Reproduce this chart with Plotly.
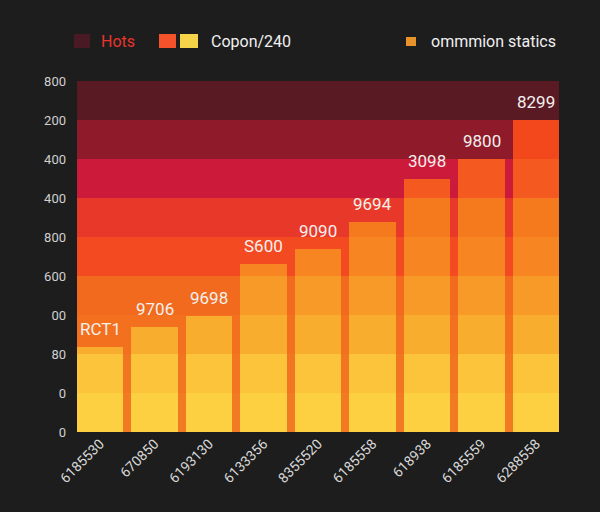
import numpy as np
import plotly.graph_objects as go

categories = ["6185530", "670850", "6193130", "6133356", "8355520",
              "6185558", "618938", "6185559", "6288558"]
values = [2.18, 2.69, 2.98, 4.31, 4.68, 5.38, 6.49, 7.0, 8.0]
bar_labels = ["RCT1", "9706", "9698", "S600", "9090", "9694", "3098", "9800", "8299"]
y_tick_labels = ["0", "0", "80", "00", "600", "800", "400", "400", "200", "800"]
band_colors = ["#f27a22", "#f27622", "#f3701f", "#f26a1e", "#f44a22",
               "#e8382a", "#cc1a3a", "#8e1a2a", "#5a1a24"]
bar_colors = ["#fcd040", "#fbc43a", "#f9ad2e", "#f89a28", "#f68522",
              "#f57a1e", "#f4591f", "#f2481c", "#f2481c"]
legend_labels = ["Hots", "Copon/240", "ommmion statics"]

W, H = 600, 512
L, R, T, B = 77, 41, 81, 80
pw, ph = W - L - R, H - T - B


def px(x):
    return (x - L) / pw


def py(y):
    return (H - B - y) / ph


vals = np.array(values)
x_idx = list(range(len(categories)))

fig = go.Figure()
for k, col in enumerate(bar_colors):
    seg = np.clip(vals - k, 0, 1)
    fig.add_trace(go.Bar(x=x_idx, y=seg, marker=dict(color=col, line=dict(width=0)),
                         showlegend=False, hoverinfo="skip"))

shapes = []
for k, col in enumerate(band_colors):
    shapes.append(dict(type="rect", xref="paper", yref="y", x0=0, x1=1, y0=k, y1=k + 1,
                       fillcolor=col, line=dict(width=0), layer="below"))

annotations = []
for i, (v, t) in enumerate(zip(values, bar_labels)):
    annotations.append(dict(x=i, y=v, xref="x", yref="y", text=t, showarrow=False,
                            yanchor="bottom", yshift=6,
                            font=dict(family="Roboto", size=17, color="#f4f0ee")))

# legend (drawn manually)
legend_y0, legend_y1 = 34, 48
for (x0, x1, c) in [(74, 90, "#4a1a24"), (159, 176, "#f4522a"), (180, 198, "#f6d44a")]:
    shapes.append(dict(type="rect", xref="paper", yref="paper", x0=px(x0), x1=px(x1),
                       y0=py(legend_y1), y1=py(legend_y0), fillcolor=c, line=dict(width=0)))
shapes.append(dict(type="rect", xref="paper", yref="paper", x0=px(406), x1=px(416),
                   y0=py(46), y1=py(37), fillcolor="#e8922c", line=dict(width=0)))
for (x0, t, c) in [(99, legend_labels[0], "#e8342c"), (209, legend_labels[1], "#f0f0f0"),
                   (429, legend_labels[2], "#f0f0f0")]:
    annotations.append(dict(x=px(x0), y=py(41), xref="paper", yref="paper", text=t,
                            showarrow=False, xanchor="left", yanchor="middle",
                            font=dict(family="Roboto", size=16, color=c)))

fig.update_layout(
    width=W, height=H,
    margin=dict(l=L, r=R, t=T, b=B, pad=0),
    paper_bgcolor="#1d1d1d", plot_bgcolor="#1d1d1d",
    barmode="stack", bargap=0.155,
    shapes=shapes, annotations=annotations,
    showlegend=False,
    xaxis=dict(range=[-0.422, 8.422], tickmode="array", tickvals=x_idx, ticktext=categories,
               tickangle=-45, tickfont=dict(family="Roboto", size=14, color="#d8d8d8"),
               showgrid=False, zeroline=False, showline=False, ticks=""),
    yaxis=dict(range=[0, 9], tickmode="array", tickvals=list(range(10)), ticktext=y_tick_labels,
               tickfont=dict(family="Roboto", size=13, color="#d0d0d0"),
               showgrid=False, zeroline=False, showline=False, ticks="",
               ticklabelstandoff=10),
)

fig.write_html("out.html")
